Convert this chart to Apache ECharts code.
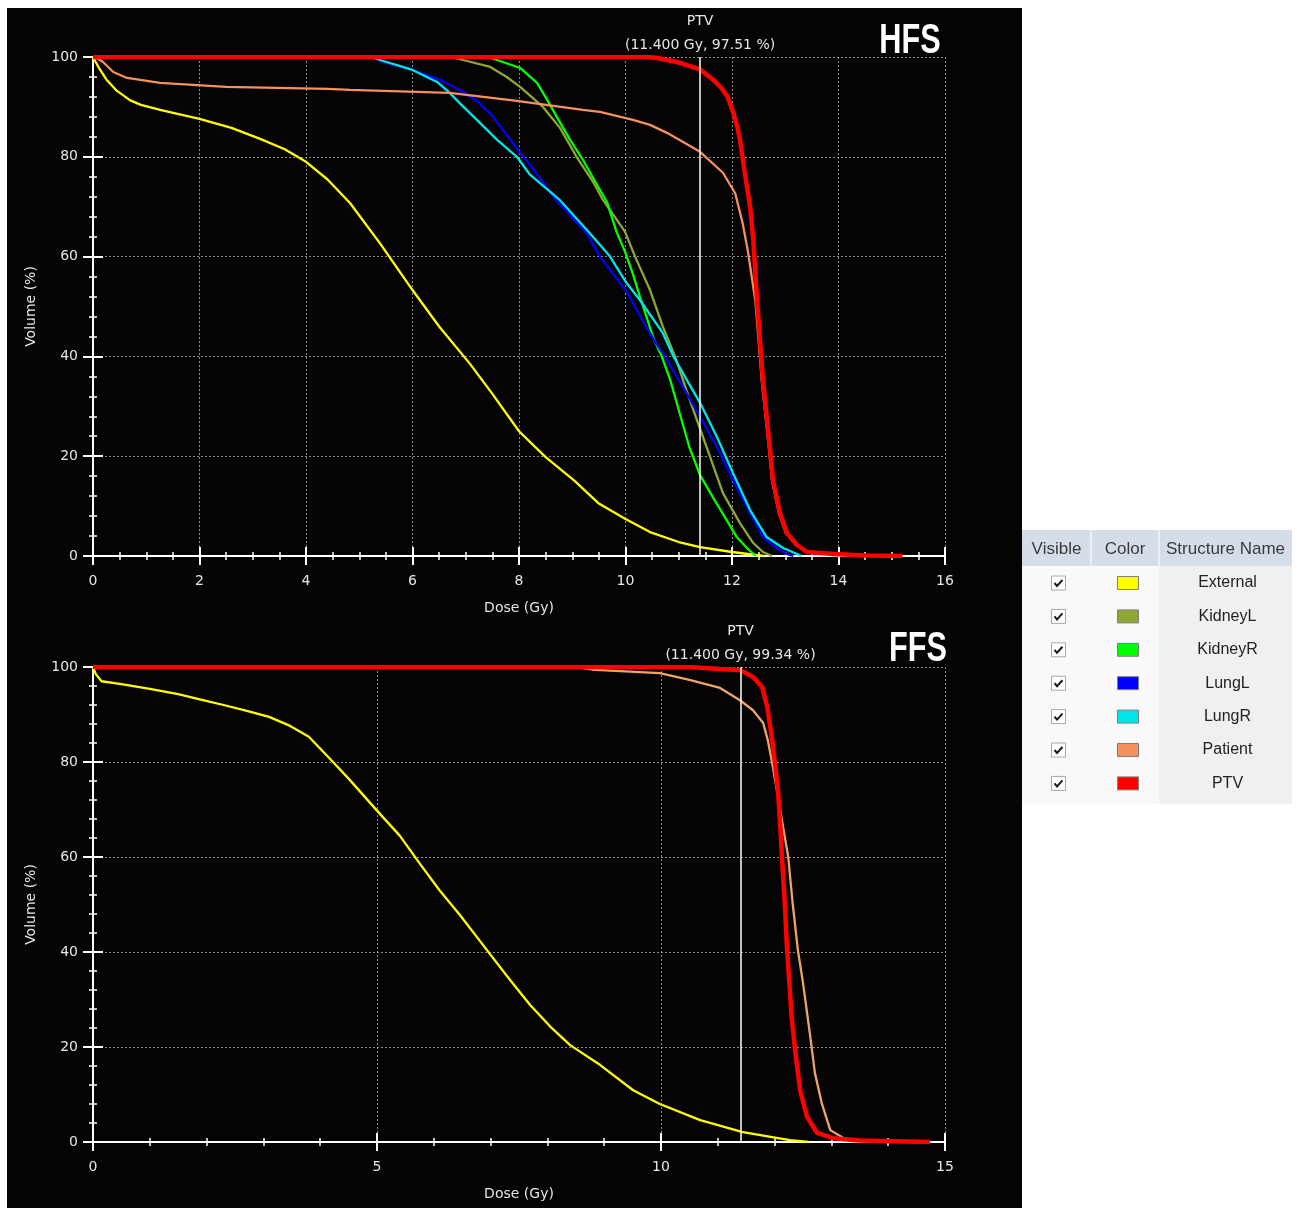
<!DOCTYPE html>
<html><head><meta charset="utf-8">
<script src="https://cdn.jsdelivr.net/npm/echarts@6/dist/echarts.min.js"></script>
<style>html,body{margin:0;padding:0;background:#fff}#c{width:1297px;height:1211px}</style>
</head><body><div id="c"></div>
<script>
// ---------- DATA ----------
const structureNames = ['External','KidneyL','KidneyR','LungL','LungR','Patient','PTV'];
const structureColors = ['#FFFF00','#8CA832','#00FF00','#0000FF','#00E5E8','#F4915E','#FF0000'];

const hfsXTicks = {min:0, max:16, interval:2};
const ffsXTicks = {min:0, max:15, interval:5};
const yTicks = {min:0, max:100, interval:20};

const hfsExternal = [[0,100],[0.05,99],[0.13,97.5],[0.25,95.5],[0.45,93.2],[0.7,91.3],[0.9,90.4],[1.3,89.3],[2.0,87.6],[2.6,85.8],[3.14,83.6],[3.6,81.5],[4.0,79],[4.4,75.5],[4.83,70.7],[5.4,62.5],[6.0,53.3],[6.5,46],[7.08,38.5],[7.5,32.5],[8.0,25],[8.5,19.8],[9.05,15],[9.5,10.5],[10.0,7.4],[10.46,4.8],[11.0,2.8],[11.4,1.8],[12.0,0.8],[12.3,0.4],[12.6,0]];
const hfsKidneyL = [[0,100],[6.7,100],[6.95,99.4],[7.46,98],[7.77,96],[8.02,94],[8.45,90],[8.77,85.8],[9.08,80],[9.39,75],[9.58,71.3],[9.99,65],[10.18,60],[10.46,53.3],[10.7,46],[10.93,40],[11.2,31.5],[11.4,25.5],[11.59,19.8],[11.83,12.6],[12.15,6.6],[12.4,2.6],[12.58,0.8],[12.75,0]];
const hfsKidneyR = [[0,100],[7.4,100],[7.59,99.4],[8.02,97.8],[8.34,94.8],[8.53,91.4],[8.71,88],[8.96,83.4],[9.2,79.4],[9.46,74.5],[9.65,71],[9.83,65],[9.99,61],[10.14,56.5],[10.27,52],[10.52,43.8],[10.68,40],[10.84,35.3],[11.02,28.5],[11.2,21.8],[11.4,16.2],[11.64,11.8],[11.9,7.2],[12.09,3.8],[12.28,1.6],[12.45,0]];
const hfsLungL = [[0,100],[5.3,100],[5.45,99],[6.0,97.4],[6.52,95.4],[6.89,93.4],[7.21,91.2],[7.5,88.2],[8.02,80.8],[8.2,78.5],[8.7,71.3],[9.27,64.7],[9.52,60],[10.02,53],[10.2,49.5],[10.52,43.5],[10.74,40],[11.1,33.5],[11.4,27.9],[11.72,21.8],[12.02,15.2],[12.34,8.6],[12.58,3.8],[12.84,1.6],[13.03,0.4],[13.15,0]];
const hfsLungR = [[0,100],[5.2,100],[5.39,99.4],[6.0,97.4],[6.46,95],[6.7,92.8],[6.89,90.7],[7.21,87.4],[7.59,83.4],[7.96,80],[8.2,76.5],[8.77,71.3],[9.33,64.7],[9.71,60],[10.02,54.7],[10.27,51.3],[10.7,44.7],[10.9,40],[11.15,35.3],[11.4,30.7],[11.72,23.8],[12.02,16.6],[12.34,9.2],[12.65,3.8],[12.96,1.6],[13.22,0.4],[13.3,0]];
const hfsPatient = [[0,100],[0.1,99.6],[0.19,99],[0.38,97],[0.64,95.8],[1.26,94.8],[2.5,94],[4.4,93.6],[4.83,93.4],[6.7,92.8],[7.96,91.2],[9.2,89.4],[9.52,89],[10.14,87.4],[10.46,86.4],[10.78,84.8],[11.4,81],[11.83,76.8],[12.06,72.7],[12.2,66.7],[12.3,61],[12.44,51],[12.56,35],[12.69,22],[12.75,15.2],[12.88,8.6],[13.01,4.6],[13.2,2.2],[13.4,0.8],[13.9,0.3],[15.2,0]];
const hfsPTV = [[0,100],[10.4,100],[10.6,99.8],[10.97,99],[11.4,97.51],[11.64,95.5],[11.8,93.8],[11.92,92],[12.02,89],[12.1,86],[12.15,83.4],[12.24,76.8],[12.34,70],[12.4,63.3],[12.47,51.3],[12.58,35.3],[12.71,21.8],[12.77,15.2],[12.9,8.6],[13.03,4.6],[13.22,2.2],[13.41,0.8],[13.9,0.4],[14.5,0.1],[15.2,0]];

const ffsExternal = [[0,100],[0.05,98.5],[0.15,97],[0.5,96.4],[1.0,95.4],[1.5,94.3],[1.88,93.2],[2.3,92],[2.76,90.6],[3.1,89.5],[3.47,87.6],[3.8,85.3],[4.2,80.3],[4.5,76.5],[5.02,69.5],[5.4,64.5],[5.76,58.5],[6.1,53],[6.46,47.8],[7.0,39.4],[7.35,34],[7.7,28.8],[8.05,24.3],[8.4,20.4],[8.93,16.2],[9.51,10.9],[9.98,8.0],[10.69,4.6],[11.44,2.1],[12.27,0.4],[12.6,0]];
const ffsPatient = [[0,100],[8.5,100],[8.84,99.4],[9.98,98.7],[10.5,97.3],[11.04,95.6],[11.39,93],[11.62,90.9],[11.8,88.2],[11.88,84.6],[11.97,79],[12.04,74.1],[12.1,69.9],[12.15,66.3],[12.24,60],[12.32,50],[12.41,40.4],[12.5,33.5],[12.62,22.9],[12.71,14.5],[12.83,8.2],[12.98,2.5],[13.27,0.4],[13.4,0]];
const ffsPTV = [[0,100],[10.5,100],[11.04,99.6],[11.4,99.34],[11.62,97.9],[11.78,95.8],[11.87,91.6],[11.95,85.3],[12.0,80.4],[12.06,74.1],[12.1,66.3],[12.14,58],[12.18,50],[12.22,40.4],[12.26,33.5],[12.3,26.3],[12.36,19.4],[12.45,10.9],[12.57,5.3],[12.75,1.9],[13.03,0.8],[13.5,0.3],[14.74,0]];

const hfsMarker = {dose:11.4, label:'PTV\n(11.400 Gy, 97.51 %)'};
const ffsMarker = {dose:11.4, label:'PTV\n(11.400 Gy, 99.34 %)'};
const ffsPatientColor = '#EDA566';

// ---------- CHART ----------
const chart = echarts.init(document.getElementById('c'), null, {renderer:'canvas'});
const LBL = '#E6E6E6';
const FONT = 'DejaVu Sans';

function xAxes(grid, t, minorSplit){
  const base = {type:'value', gridIndex:grid, min:t.min, max:t.max, interval:t.interval, position:'bottom'};
  return [
    Object.assign({}, base, {
      axisLine:{show:true, lineStyle:{color:'#fff', width:2}},
      axisTick:{show:true, length:9, lineStyle:{color:'#fff', width:2}},
      minorTick:{show:true, splitNumber:minorSplit, length:4, lineStyle:{color:'#fff', width:1.5}},
      axisLabel:{color:LBL, fontSize:14, fontFamily:FONT, margin:18},
      splitLine:{show:true, lineStyle:{color:'#8a8a8a', width:1, type:[2,2]}},
      name:'Dose (Gy)', nameLocation:'middle', nameGap:45,
      nameTextStyle:{color:LBL, fontSize:14, fontFamily:FONT}
    }),
    Object.assign({}, base, {
      axisLine:{show:false},
      axisTick:{show:true, inside:true, length:9, lineStyle:{color:'#fff', width:2}},
      minorTick:{show:true, splitNumber:minorSplit, length:4, lineStyle:{color:'#fff', width:1.5}},
      axisLabel:{show:false}, splitLine:{show:false}
    })
  ];
}
function yAxes(grid){
  const base = {type:'value', gridIndex:grid, min:yTicks.min, max:yTicks.max, interval:yTicks.interval, position:'left'};
  return [
    Object.assign({}, base, {
      axisLine:{show:true, lineStyle:{color:'#fff', width:2}},
      axisTick:{show:true, length:10, lineStyle:{color:'#fff', width:2}},
      minorTick:{show:true, splitNumber:5, length:4, lineStyle:{color:'#fff', width:1.5}},
      axisLabel:{color:LBL, fontSize:14, fontFamily:FONT, margin:15},
      splitLine:{show:true, lineStyle:{color:'#8a8a8a', width:1, type:[2,2]}},
      name:'Volume (%)', nameLocation:'middle', nameGap:55,
      nameTextStyle:{color:LBL, fontSize:14, fontFamily:FONT}
    }),
    Object.assign({}, base, {
      axisLine:{show:false},
      axisTick:{show:true, inside:true, length:10, lineStyle:{color:'#fff', width:2}},
      minorTick:{show:true, splitNumber:5, length:4, lineStyle:{color:'#fff', width:1.5}},
      axisLabel:{show:false}, splitLine:{show:false}
    })
  ];
}
function line(name, data, color, xi, yi, extra){
  return Object.assign({
    type:'line', name, data, xAxisIndex:xi, yAxisIndex:yi,
    showSymbol:false, symbol:'none', smooth:false, animation:false, silent:true,
    lineStyle:{color, width: name==='PTV' ? 4.5 : 2.3},
    itemStyle:{color}
  }, extra||{});
}
function marker(m){
  return {
    symbol:'none', silent:true, animation:false,
    lineStyle:{color:'#FFFFFF', width:1.5, type:'solid'},
    label:{show:true, position:'end', formatter:m.label, color:LBL, fontSize:14, fontFamily:FONT, lineHeight:24, distance:0},
    emphasis:{disabled:true},
    data:[{xAxis:m.dose}]
  };
}

const col = n => structureColors[structureNames.indexOf(n)];
const series = [
  line('External', hfsExternal, col('External'), 0, 0, {markLine:marker(hfsMarker)}),
  line('KidneyL', hfsKidneyL, col('KidneyL'), 0, 0),
  line('KidneyR', hfsKidneyR, col('KidneyR'), 0, 0),
  line('LungL', hfsLungL, col('LungL'), 0, 0),
  line('LungR', hfsLungR, col('LungR'), 0, 0),
  line('Patient', hfsPatient, col('Patient'), 0, 0),
  line('PTV', hfsPTV, col('PTV'), 0, 0),
  line('External', ffsExternal, col('External'), 2, 2, {markLine:marker(ffsMarker)}),
  line('Patient', ffsPatient, ffsPatientColor, 2, 2),
  line('PTV', ffsPTV, col('PTV'), 2, 2)
];

// legend table graphic
const T = {x:1022, y:530, w:270, hh:36, rowH:33.4, c1:1091, c2:1159};
const tbl = [];
const bodyH = structureNames.length * T.rowH + 4;
tbl.push({type:'rect', shape:{x:T.x, y:T.y, width:T.w, height:T.hh}, style:{fill:'#D5DEE8'}});
tbl.push({type:'rect', shape:{x:T.x, y:T.y+T.hh, width:T.c2-T.x, height:bodyH}, style:{fill:'#F9F9F9'}});
tbl.push({type:'rect', shape:{x:T.c2, y:T.y+T.hh, width:T.x+T.w-T.c2, height:bodyH}, style:{fill:'#F0F0F0'}});
[T.c1, T.c2].forEach(cx => tbl.push({type:'line', shape:{x1:cx, y1:T.y, x2:cx, y2:T.y+T.hh}, style:{stroke:'#EAF0F6', lineWidth:2}}));
const hdrFont = {fontSize:17, fontFamily:'Liberation Sans', fill:'#3A3A3A', align:'center', verticalAlign:'middle'};
[['Visible',(T.x+T.c1)/2],['Color',(T.c1+T.c2)/2],['Structure Name',(T.c2+T.x+T.w)/2]].forEach(([t,cx]) =>
  tbl.push({type:'text', x:cx, y:T.y+T.hh/2+1, style:Object.assign({text:t}, hdrFont)}));
structureNames.forEach((n,i) => {
  const cy = T.y + T.hh + 17 + i*T.rowH;
  const cbx = (T.x+T.c1)/2 + 2;
  tbl.push({type:'rect', shape:{x:cbx-7, y:cy-7, width:14, height:14}, style:{fill:'#FFFFFF', stroke:'#A8A8A8', lineWidth:1}});
  tbl.push({type:'polyline', shape:{points:[[cbx-4,cy],[cbx-1.5,cy+3],[cbx+4,cy-3]]}, style:{stroke:'#1A1A1A', lineWidth:2, fill:null}});
  const sx = (T.c1+T.c2)/2 + 3;
  tbl.push({type:'rect', shape:{x:sx-10.5, y:cy-6.5, width:21, height:13}, style:{fill:structureColors[i], stroke:'#808080', lineWidth:1}});
  tbl.push({type:'text', x:(T.c2+T.x+T.w)/2 + 2, y:cy, style:{text:n, fontSize:16, fontFamily:'Liberation Sans', fill:'#222', align:'center', verticalAlign:'middle'}});
});

const graphic = [
  {type:'rect', z:-10, shape:{x:7, y:8, width:1015, height:1200}, style:{fill:'#050303'}, silent:true},
  {type:'text', x:910, y:41, scaleX:0.73, z:10, style:{text:'HFS', fontSize:42, fontWeight:'bold', fontFamily:'Liberation Sans', fill:'#FFFFFF', align:'center', verticalAlign:'middle'}},
  {type:'text', x:918, y:649, scaleX:0.73, z:10, style:{text:'FFS', fontSize:42, fontWeight:'bold', fontFamily:'Liberation Sans', fill:'#FFFFFF', align:'center', verticalAlign:'middle'}},
  {type:'group', children:tbl}
];

chart.setOption({
  backgroundColor:'#FFFFFF',
  animation:false,
  grid:[
    {left:93, top:57, width:852, height:499, containLabel:false},
    {left:93, top:667, width:852, height:475, containLabel:false}
  ],
  xAxis:[...xAxes(0, hfsXTicks, 4), ...xAxes(1, ffsXTicks, 5)],
  yAxis:[...yAxes(0), ...yAxes(1)],
  series,
  graphic
});
</script></body></html>
